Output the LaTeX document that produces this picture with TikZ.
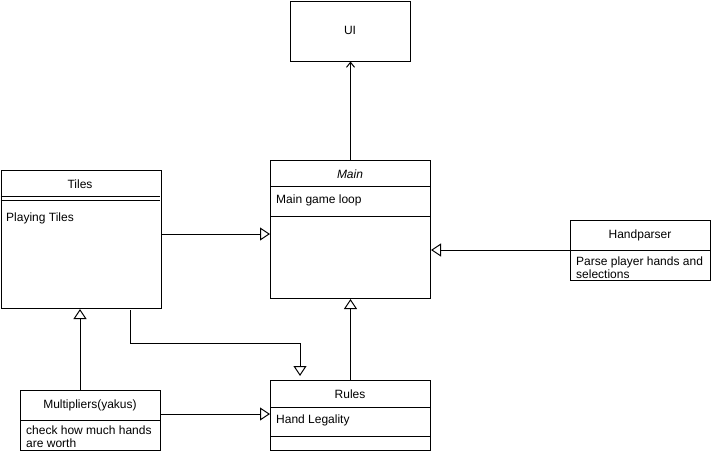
\documentclass[tikz,border=0pt]{standalone}
\usepackage{fontspec}
\setmainfont{Liberation Sans}
\usetikzlibrary{arrows.meta}
\begin{document}
\begin{tikzpicture}[x=1pt,y=-1pt,
  box/.style={draw,line width=1pt,rectangle,inner sep=0pt,anchor=north west},
  lbl/.style={font=\fontsize{12}{13.5}\selectfont,inner sep=0pt},
  txt/.style={font=\fontsize{12}{13.5}\selectfont,inner sep=0pt,anchor=west,align=left},
  sep/.style={line width=1pt},
  inh/.style={line width=1pt,-{Triangle[open,length=10pt,width=13pt]}},
  dep/.style={line width=1pt,-{Straight Barb[length=5pt,width=8pt]}}]
\useasboundingbox (0,0) rectangle (711,451);
\fill[white] (0,0) rectangle (711,451);
% UI
\node[box,minimum width=120pt,minimum height=60pt] (ui) at (290,0.5) {};
\node[lbl] (uit) at (350,30) {UI};
% Main
\node[box,minimum width=160pt,minimum height=138pt] (main) at (270,160) {};
\node[lbl] (maint) at (350,174) {\itshape Main};
\draw[sep] (270,186) -- (430,186);
\draw[sep] (270,216) -- (430,216);
\node[txt] (mainb) at (276,200.5) {Main game loop};
% Tiles
\node[box,minimum width=160pt,minimum height=138pt] (tiles) at (0.5,170) {};
\node[lbl] (tilest) at (80,184) {Tiles};
\draw[sep] (0.5,196) -- (160,196);
\draw[sep] (0.5,200) -- (160,200);
\node[txt] (tilesb) at (6,218.5) {Playing Tiles};
% Handparser
\node[box,minimum width=140pt,minimum height=60pt] (hp) at (570,220) {};
\node[lbl] (hpt) at (640,235) {Handparser};
\draw[sep] (570,250) -- (710,250);
\node[txt,font=\fontsize{12}{13}\selectfont] (hpb) at (576,267.5) {Parse player hands and\\selections};
% Multipliers
\node[box,minimum width=140pt,minimum height=60pt] (mul) at (20,390) {};
\node[lbl] (mult) at (90,405) {Multipliers(yakus)};
\draw[sep] (20,420) -- (160,420);
\node[txt,font=\fontsize{12}{13}\selectfont] (mulb) at (26,437) {check how much hands\\are worth};
% Rules
\node[box,minimum width=160pt,minimum height=70pt] (rules) at (270,380) {};
\node[lbl] (rulest) at (350,394) {Rules};
\draw[sep] (270,407) -- (430,407);
\draw[sep] (270,436) -- (430,436);
\node[txt] (rulesb) at (276,420.5) {Hand Legality};
% connectors
\coordinate (c1) at (130,310);
\coordinate (c2) at (300,343);
\draw[dep] (main.north) -- (ui.south);
\draw[inh] (tiles.east |- 0,234) -- (main.west |- 0,234);
\draw[inh] (hp.west |- 0,250) -- (main.east |- 0,250);
\draw[inh] (c1) |- (c2) -- ([shift={(0,-4)}]rules.north west -| c2);
\draw[inh] (mul.north west -| 80,0) -- (tiles.south west -| 80,0);
\draw[inh] (mul.east |- 0,414) -- (rules.west |- 0,414);
\draw[inh] (rules.north) -- (main.south);
\end{tikzpicture}
\end{document}
